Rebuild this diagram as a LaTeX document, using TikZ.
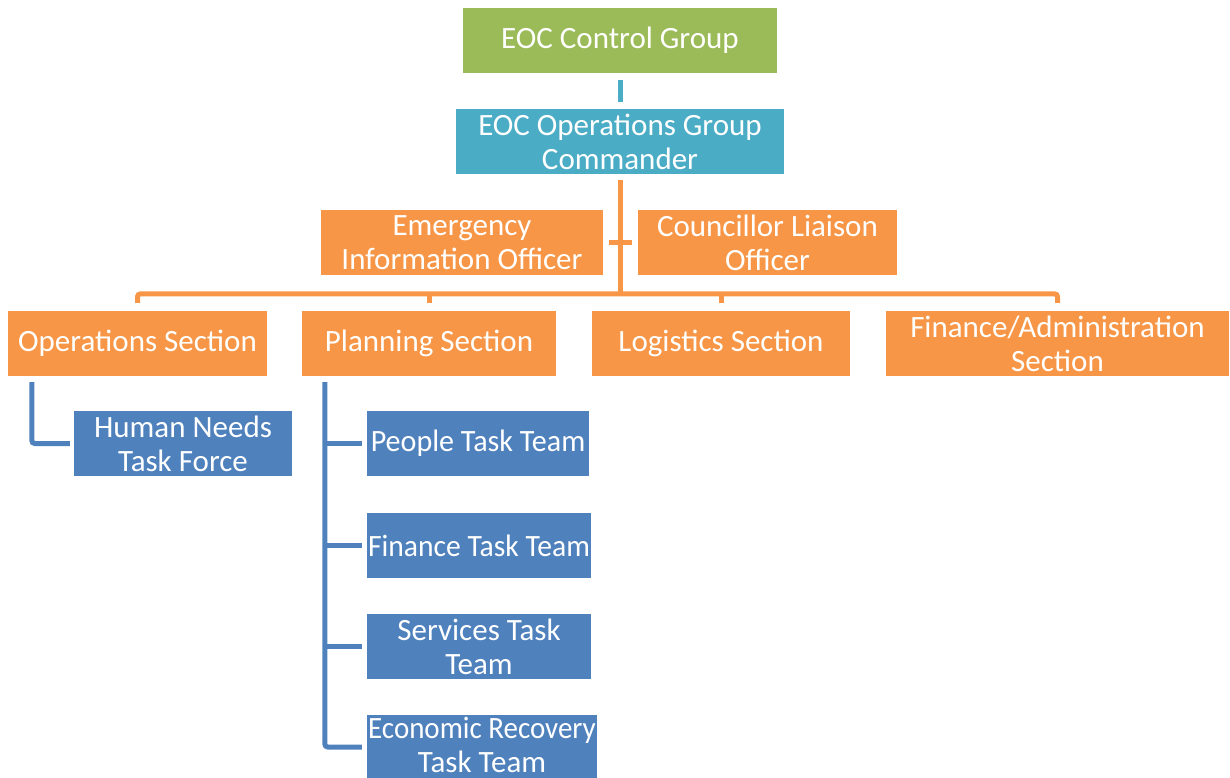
\documentclass[tikz,border=0pt]{standalone}
\usepackage{fontspec}
\setmainfont{Carlito}
\usetikzlibrary{calc}
\definecolor{cgreen}{HTML}{9BBB59}
\definecolor{cteal}{HTML}{4BACC6}
\definecolor{corange}{HTML}{F79646}
\definecolor{cblue}{HTML}{4F81BD}
\tikzset{
  box/.style={inner sep=0pt, text=white, align=center, font=\fontsize{31}{34}\selectfont},
  greenbox/.style={box, fill=cgreen},
  tealbox/.style={box, fill=cteal},
  orangebox/.style={box, fill=corange},
  bluebox/.style={box, fill=cblue},
  tealline/.style={draw=cteal, line width=5pt},
  orangeline/.style={draw=corange, line width=5pt, rounded corners=3pt},
  blueline/.style={draw=cblue, line width=5pt, rounded corners=3pt},
}
\newcommand{\bx}[7]{% name, style, x1, y1, x2, y2, text
  \node[#2, minimum width={(#5-#3)*1pt}, minimum height={(#6-#4)*1pt}] (#1) at ({(#3+#5)/2},{(#4+#6)/2+1}) {#7};}
\newcommand{\zb}[2]{\makebox[0pt]{\scalebox{#1}[1]{#2}}}
\begin{document}
\begin{tikzpicture}[x=1pt,y=-1pt]
\useasboundingbox (0,0) rectangle (1230,778);
\bx{ctrl}{greenbox}{463}{7}{777}{72}{EOC Control Group}
\bx{cmd}{tealbox}{456}{108}{784}{173}{EOC Operations Group\\Commander}
\bx{eio}{orangebox}{321}{209}{603}{274}{Emergency\\Information Officer}
\bx{clo}{orangebox}{638}{209}{897}{274}{Councillor Liaison\\Officer}
\bx{ops}{orangebox}{8}{310}{267}{375}{Operations Section}
\bx{plan}{orangebox}{302}{310}{556}{375}{Planning Section}
\bx{log}{orangebox}{592}{310}{850}{375}{Logistics Section}
\bx{fin}{orangebox}{886}{310}{1229}{375}{\zb{1}{Finance/Administration}\\Section}
\bx{hn}{bluebox}{74}{410}{292}{475}{Human Needs\\Task Force}
\bx{ptt}{bluebox}{367}{410}{589}{475}{\zb{0.97}{People Task Team}}
\bx{ftt}{bluebox}{367}{512}{591}{577}{\zb{0.955}{Finance Task Team}}
\bx{stt}{bluebox}{367}{613}{591}{678}{Services Task\\Team}
\bx{ert}{bluebox}{367}{714}{597}{774}{\zb{0.935}{Economic Recovery}\\Task Team}
\fill[cblue] (ert.south west) rectangle (597,778);
% teal connector
\draw[tealline] ($(ctrl.south)+(0,7)$) -- ($(cmd.north)+(0,-7)$);
% orange connectors
\coordinate (bar) at (620,293);
\draw[orangeline] ($(cmd.south)+(0,6)$) -- (bar);
\draw[draw=corange, line width=5pt] ($(eio.east)+(6,0)$) -- ($(clo.west)+(-6,0)$);
\draw[orangeline] ($(ops.north)+(0,-8)$) -- ($(ops.north)+(0,-17)$) -- ($(fin.north)+(0,-17)$) -- ($(fin.north)+(0,-8)$);
\draw[orangeline] ($(plan.north)+(0,-8)$) -- ($(plan.north)+(0,-17)$);
\draw[orangeline] ($(log.north)+(0,-8)$) -- ($(log.north)+(0,-17)$);
% blue connectors
\coordinate (ov) at ($(ops.south west)+(24,6)$);
\draw[blueline] (ov) |- ($(hn.west)+(-4,0)$);
\coordinate (pv) at ($(plan.south west)+(23,6)$);
\draw[blueline] (pv) |- ($(ert.west)+(-5,2)$);
\draw[blueline] (pv |- ptt.west) -- ($(ptt.west)+(-5,0)$);
\draw[blueline] (pv |- ftt.west) -- ($(ftt.west)+(-5,0)$);
\draw[blueline] (pv |- stt.west) -- ($(stt.west)+(-5,0)$);
\end{tikzpicture}
\end{document}
